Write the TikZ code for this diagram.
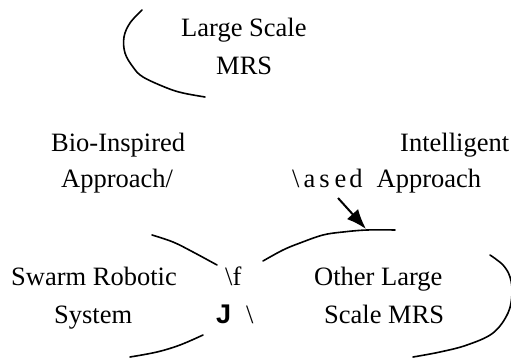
\documentclass[tikz,border=0pt]{standalone}
\usepackage{fontspec}
\setmainfont{Liberation Serif}
\newfontfamily\jsans{Liberation Sans}
\usetikzlibrary{arrows.meta}
\tikzset{
  lbl/.style={anchor=base west, inner sep=0pt, font=\fontsize{26.5}{30}\selectfont},
  rim/.style={line width=1.6pt, line cap=round},
  pointer/.style={line width=2pt, -{Latex[length=20pt,width=15pt]}}
}
\begin{document}
\begin{tikzpicture}[x=1pt,y=-1pt]
\useasboundingbox (0,0) rectangle (511,358);
\fill[white] (0,0) rectangle (511,358);

% labels
\node[lbl] (ls1) at (181,37) {Large Scale};
\node[lbl] (ls2) at (216,75) {MRS};
\node[lbl] (bio1) at (51,152) {Bio-Inspired};
\node[lbl] (bio2) at (61,188) {Approach/};
\node[lbl] (int1) at (400,152) {Intelligent};
\node[lbl] (int2) at (292,188) {\textbackslash\hspace{4pt}a\hspace{4pt}s\hspace{5pt}e\hspace{3pt}d\hspace{14pt}Approach};
\node[lbl] (sw1) at (11,285) {Swarm Robotic};
\node[lbl] (sw2) at (54,323) {System};
\node[lbl] (ot1) at (314,285) {Other Large};
\node[lbl] (ot2) at (324,323) {Scale MRS};
\node[lbl] (mid1) at (225,285) {\textbackslash f};
\node[lbl, font=\fontsize{27}{30}\jsans\bfseries] (mid2) at (216,323) {J};
\node[lbl] (mid3) at (246,323) {\textbackslash};

% partial outlines
\draw[rim] plot[smooth, tension=0.6] coordinates {(142,10) (130,23) (124,37) (125,53) (133,67) (143,77) (167,88) (183,93) (205,97)};
\draw[rim] plot[smooth, tension=0.6] coordinates {(152,235) (173,242) (193,252) (217,265)};
\draw[rim] plot[smooth, tension=0.6] coordinates {(203,335) (180,345) (157,352) (130,357)};
\draw[rim] plot[smooth, tension=0.6] coordinates {(263,261) (283,250) (300,243) (323,235) (343,232) (367,230) (395,230)};
\draw[rim] plot[smooth, tension=0.6] coordinates {(490,255) (503,265) (510,277) (512,293) (508,313) (493,333) (467,345) (440,352) (413,357)};

% pointer
\coordinate (ptail) at (338,198);
\coordinate (phead) at (366,229);
\draw[pointer] (ptail) -- (phead);
\end{tikzpicture}
\end{document}
